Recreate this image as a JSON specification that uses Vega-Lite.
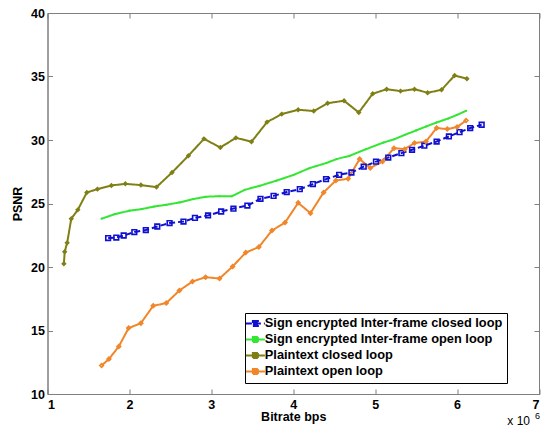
{
  "$schema": "https://vega.github.io/schema/vega-lite/v6.json",
  "width": 491.5,
  "height": 381,
  "autosize": "none",
  "padding": {"left": 47.5, "top": 13, "right": 4, "bottom": 32},
  "background": "white",
  "config": {
    "view": {"stroke": "#7f7f7f", "strokeWidth": 1},
    "font": "Liberation Sans",
    "axis": {
      "grid": false, "domainColor": "#7f7f7f", "tickColor": "#7f7f7f",
      "labelFont": "Liberation Sans", "labelFontSize": 12.5, "labelFontWeight": "bold", "labelColor": "black",
      "titleFont": "Liberation Sans", "titleFontSize": 12.5, "titleFontWeight": "bold", "titleColor": "black"
    }
  },
  "datasets": {
    "main": [
      {"series": "Sign encrypted Inter-frame closed loop", "x": 1.74, "y": 22.28},
      {"series": "Sign encrypted Inter-frame closed loop", "x": 1.84, "y": 22.32},
      {"series": "Sign encrypted Inter-frame closed loop", "x": 1.93, "y": 22.48},
      {"series": "Sign encrypted Inter-frame closed loop", "x": 2.06, "y": 22.75},
      {"series": "Sign encrypted Inter-frame closed loop", "x": 2.20, "y": 22.91},
      {"series": "Sign encrypted Inter-frame closed loop", "x": 2.34, "y": 23.19},
      {"series": "Sign encrypted Inter-frame closed loop", "x": 2.49, "y": 23.46},
      {"series": "Sign encrypted Inter-frame closed loop", "x": 2.66, "y": 23.58},
      {"series": "Sign encrypted Inter-frame closed loop", "x": 2.80, "y": 23.87},
      {"series": "Sign encrypted Inter-frame closed loop", "x": 2.96, "y": 24.06},
      {"series": "Sign encrypted Inter-frame closed loop", "x": 3.12, "y": 24.37},
      {"series": "Sign encrypted Inter-frame closed loop", "x": 3.27, "y": 24.60},
      {"series": "Sign encrypted Inter-frame closed loop", "x": 3.44, "y": 24.84},
      {"series": "Sign encrypted Inter-frame closed loop", "x": 3.60, "y": 25.37},
      {"series": "Sign encrypted Inter-frame closed loop", "x": 3.76, "y": 25.60},
      {"series": "Sign encrypted Inter-frame closed loop", "x": 3.92, "y": 25.90},
      {"series": "Sign encrypted Inter-frame closed loop", "x": 4.08, "y": 26.13},
      {"series": "Sign encrypted Inter-frame closed loop", "x": 4.24, "y": 26.53},
      {"series": "Sign encrypted Inter-frame closed loop", "x": 4.40, "y": 26.92},
      {"series": "Sign encrypted Inter-frame closed loop", "x": 4.56, "y": 27.26},
      {"series": "Sign encrypted Inter-frame closed loop", "x": 4.71, "y": 27.44},
      {"series": "Sign encrypted Inter-frame closed loop", "x": 4.86, "y": 27.90},
      {"series": "Sign encrypted Inter-frame closed loop", "x": 5.01, "y": 28.30},
      {"series": "Sign encrypted Inter-frame closed loop", "x": 5.16, "y": 28.62},
      {"series": "Sign encrypted Inter-frame closed loop", "x": 5.32, "y": 28.97},
      {"series": "Sign encrypted Inter-frame closed loop", "x": 5.45, "y": 29.23},
      {"series": "Sign encrypted Inter-frame closed loop", "x": 5.60, "y": 29.55},
      {"series": "Sign encrypted Inter-frame closed loop", "x": 5.75, "y": 29.88},
      {"series": "Sign encrypted Inter-frame closed loop", "x": 5.90, "y": 30.28},
      {"series": "Sign encrypted Inter-frame closed loop", "x": 6.03, "y": 30.62},
      {"series": "Sign encrypted Inter-frame closed loop", "x": 6.16, "y": 30.94},
      {"series": "Sign encrypted Inter-frame closed loop", "x": 6.30, "y": 31.20},

      {"series": "Sign encrypted Inter-frame open loop", "x": 1.66, "y": 23.80},
      {"series": "Sign encrypted Inter-frame open loop", "x": 1.82, "y": 24.16},
      {"series": "Sign encrypted Inter-frame open loop", "x": 2.00, "y": 24.43},
      {"series": "Sign encrypted Inter-frame open loop", "x": 2.15, "y": 24.56},
      {"series": "Sign encrypted Inter-frame open loop", "x": 2.30, "y": 24.76},
      {"series": "Sign encrypted Inter-frame open loop", "x": 2.45, "y": 24.90},
      {"series": "Sign encrypted Inter-frame open loop", "x": 2.61, "y": 25.08},
      {"series": "Sign encrypted Inter-frame open loop", "x": 2.78, "y": 25.35},
      {"series": "Sign encrypted Inter-frame open loop", "x": 2.93, "y": 25.53},
      {"series": "Sign encrypted Inter-frame open loop", "x": 3.10, "y": 25.58},
      {"series": "Sign encrypted Inter-frame open loop", "x": 3.25, "y": 25.57},
      {"series": "Sign encrypted Inter-frame open loop", "x": 3.41, "y": 26.08},
      {"series": "Sign encrypted Inter-frame open loop", "x": 3.59, "y": 26.39},
      {"series": "Sign encrypted Inter-frame open loop", "x": 3.80, "y": 26.81},
      {"series": "Sign encrypted Inter-frame open loop", "x": 4.00, "y": 27.24},
      {"series": "Sign encrypted Inter-frame open loop", "x": 4.20, "y": 27.79},
      {"series": "Sign encrypted Inter-frame open loop", "x": 4.40, "y": 28.18},
      {"series": "Sign encrypted Inter-frame open loop", "x": 4.53, "y": 28.50},
      {"series": "Sign encrypted Inter-frame open loop", "x": 4.69, "y": 28.76},
      {"series": "Sign encrypted Inter-frame open loop", "x": 4.89, "y": 29.28},
      {"series": "Sign encrypted Inter-frame open loop", "x": 5.10, "y": 29.80},
      {"series": "Sign encrypted Inter-frame open loop", "x": 5.23, "y": 30.05},
      {"series": "Sign encrypted Inter-frame open loop", "x": 5.36, "y": 30.40},
      {"series": "Sign encrypted Inter-frame open loop", "x": 5.50, "y": 30.75},
      {"series": "Sign encrypted Inter-frame open loop", "x": 5.62, "y": 31.06},
      {"series": "Sign encrypted Inter-frame open loop", "x": 5.75, "y": 31.38},
      {"series": "Sign encrypted Inter-frame open loop", "x": 5.89, "y": 31.69},
      {"series": "Sign encrypted Inter-frame open loop", "x": 6.00, "y": 31.98},
      {"series": "Sign encrypted Inter-frame open loop", "x": 6.11, "y": 32.30},

      {"series": "Plaintext closed loop", "x": 1.20, "y": 20.25},
      {"series": "Plaintext closed loop", "x": 1.21, "y": 21.20},
      {"series": "Plaintext closed loop", "x": 1.24, "y": 21.90},
      {"series": "Plaintext closed loop", "x": 1.29, "y": 23.80},
      {"series": "Plaintext closed loop", "x": 1.37, "y": 24.50},
      {"series": "Plaintext closed loop", "x": 1.48, "y": 25.87},
      {"series": "Plaintext closed loop", "x": 1.61, "y": 26.13},
      {"series": "Plaintext closed loop", "x": 1.78, "y": 26.42},
      {"series": "Plaintext closed loop", "x": 1.95, "y": 26.55},
      {"series": "Plaintext closed loop", "x": 2.14, "y": 26.45},
      {"series": "Plaintext closed loop", "x": 2.33, "y": 26.29},
      {"series": "Plaintext closed loop", "x": 2.52, "y": 27.44},
      {"series": "Plaintext closed loop", "x": 2.72, "y": 28.76},
      {"series": "Plaintext closed loop", "x": 2.91, "y": 30.09},
      {"series": "Plaintext closed loop", "x": 3.11, "y": 29.41},
      {"series": "Plaintext closed loop", "x": 3.30, "y": 30.17},
      {"series": "Plaintext closed loop", "x": 3.49, "y": 29.86},
      {"series": "Plaintext closed loop", "x": 3.68, "y": 31.41},
      {"series": "Plaintext closed loop", "x": 3.86, "y": 32.04},
      {"series": "Plaintext closed loop", "x": 4.06, "y": 32.38},
      {"series": "Plaintext closed loop", "x": 4.25, "y": 32.28},
      {"series": "Plaintext closed loop", "x": 4.42, "y": 32.90},
      {"series": "Plaintext closed loop", "x": 4.62, "y": 33.09},
      {"series": "Plaintext closed loop", "x": 4.80, "y": 32.17},
      {"series": "Plaintext closed loop", "x": 4.97, "y": 33.64},
      {"series": "Plaintext closed loop", "x": 5.14, "y": 34.00},
      {"series": "Plaintext closed loop", "x": 5.31, "y": 33.85},
      {"series": "Plaintext closed loop", "x": 5.48, "y": 34.00},
      {"series": "Plaintext closed loop", "x": 5.64, "y": 33.72},
      {"series": "Plaintext closed loop", "x": 5.81, "y": 33.95},
      {"series": "Plaintext closed loop", "x": 5.97, "y": 35.08},
      {"series": "Plaintext closed loop", "x": 6.12, "y": 34.82},

      {"series": "Plaintext open loop", "x": 1.66, "y": 12.24},
      {"series": "Plaintext open loop", "x": 1.75, "y": 12.75},
      {"series": "Plaintext open loop", "x": 1.87, "y": 13.74},
      {"series": "Plaintext open loop", "x": 1.99, "y": 15.19},
      {"series": "Plaintext open loop", "x": 2.14, "y": 15.58},
      {"series": "Plaintext open loop", "x": 2.29, "y": 16.94},
      {"series": "Plaintext open loop", "x": 2.45, "y": 17.16},
      {"series": "Plaintext open loop", "x": 2.61, "y": 18.15},
      {"series": "Plaintext open loop", "x": 2.77, "y": 18.86},
      {"series": "Plaintext open loop", "x": 2.93, "y": 19.20},
      {"series": "Plaintext open loop", "x": 3.10, "y": 19.09},
      {"series": "Plaintext open loop", "x": 3.26, "y": 20.04},
      {"series": "Plaintext open loop", "x": 3.42, "y": 21.14},
      {"series": "Plaintext open loop", "x": 3.58, "y": 21.57},
      {"series": "Plaintext open loop", "x": 3.74, "y": 22.87},
      {"series": "Plaintext open loop", "x": 3.90, "y": 23.50},
      {"series": "Plaintext open loop", "x": 4.06, "y": 25.05},
      {"series": "Plaintext open loop", "x": 4.21, "y": 24.24},
      {"series": "Plaintext open loop", "x": 4.37, "y": 25.87},
      {"series": "Plaintext open loop", "x": 4.52, "y": 26.81},
      {"series": "Plaintext open loop", "x": 4.67, "y": 26.95},
      {"series": "Plaintext open loop", "x": 4.81, "y": 28.50},
      {"series": "Plaintext open loop", "x": 4.94, "y": 27.79},
      {"series": "Plaintext open loop", "x": 5.09, "y": 28.31},
      {"series": "Plaintext open loop", "x": 5.23, "y": 29.36},
      {"series": "Plaintext open loop", "x": 5.36, "y": 29.28},
      {"series": "Plaintext open loop", "x": 5.48, "y": 29.76},
      {"series": "Plaintext open loop", "x": 5.62, "y": 29.88},
      {"series": "Plaintext open loop", "x": 5.75, "y": 30.94},
      {"series": "Plaintext open loop", "x": 5.88, "y": 30.86},
      {"series": "Plaintext open loop", "x": 6.00, "y": 31.02},
      {"series": "Plaintext open loop", "x": 6.11, "y": 31.54}
    ],
    "note": [{"a": "x 10", "b": "6"}]
  },
  "resolve": {"axis": {"x": "independent", "y": "independent"}},
  "layer": [
    {
      "data": {"name": "main"},
      "mark": {"type": "line", "strokeWidth": 2},
      "encoding": {
        "x": {"field": "x", "type": "quantitative",
              "scale": {"domain": [1, 7], "nice": false, "zero": false},
              "axis": {"values": [1, 2, 3, 4, 5, 6, 7], "tickSize": -5, "labelPadding": 9, "title": "Bitrate bps", "titlePadding": 0, "format": "d"}},
        "y": {"field": "y", "type": "quantitative",
              "scale": {"domain": [10, 40], "nice": false, "zero": false},
              "axis": {"values": [10, 15, 20, 25, 30, 35, 40], "tickSize": -5, "labelPadding": 8, "title": "PSNR", "titlePadding": 6, "format": "d"}},
        "color": {"field": "series", "type": "nominal",
                  "scale": {"domain": ["Sign encrypted Inter-frame closed loop", "Sign encrypted Inter-frame open loop", "Plaintext closed loop", "Plaintext open loop"],
                            "range": ["#1010d0", "#33e633", "#7f7f14", "#f0862a"]},
                  "legend": {"orient": "none", "legendX": 197.5, "legendY": 300, "title": null,
                             "strokeColor": "black", "fillColor": "white", "padding": 4, "rowPadding": 1,
                             "labelFont": "Liberation Sans", "labelFontSize": 12.8, "labelFontWeight": "bold", "labelColor": "black", "labelLimit": 400, "labelOffset": 3,
                             "symbolType": "M-1.9,0H1.9M-0.5,-0.5H0.5V0.5H-0.5Z", "symbolSize": 100, "symbolStrokeWidth": 2, "symbolOpacity": 1,
                             "encode": {"symbols": {"update": {
                               "fill": {"scale": "color", "field": "value"},
                               "stroke": {"scale": "color", "field": "value"}}}}}},
        "strokeDash": {"field": "series", "type": "nominal",
                       "scale": {"domain": ["Sign encrypted Inter-frame closed loop", "Sign encrypted Inter-frame open loop", "Plaintext closed loop", "Plaintext open loop"],
                                 "range": [[6, 3], [1, 0], [1, 0], [1, 0]]}}
      }
    },
    {
      "data": {"name": "main"},
      "transform": [{"filter": "datum.series === 'Sign encrypted Inter-frame closed loop'"}],
      "mark": {"type": "point", "shape": "square", "size": 22, "filled": false, "strokeWidth": 1.6, "opacity": 1},
      "encoding": {
        "x": {"field": "x", "type": "quantitative", "axis": {"orient": "top", "values": [1, 2, 3, 4, 5, 6, 7], "tickSize": -5, "labels": false, "title": null}},
        "y": {"field": "y", "type": "quantitative", "axis": {"orient": "right", "values": [10, 15, 20, 25, 30, 35, 40], "tickSize": -5, "labels": false, "title": null}},
        "color": {"field": "series", "type": "nominal", "legend": null}
      }
    },
    {
      "data": {"name": "main"},
      "transform": [{"filter": "datum.series === 'Sign encrypted Inter-frame open loop'"}],
      "mark": {"type": "point", "shape": "circle", "size": 5, "filled": true, "opacity": 1},
      "encoding": {
        "x": {"field": "x", "type": "quantitative", "axis": null},
        "y": {"field": "y", "type": "quantitative", "axis": null},
        "color": {"field": "series", "type": "nominal", "legend": null}
      }
    },
    {
      "data": {"name": "main"},
      "transform": [{"filter": "datum.series === 'Plaintext closed loop'"}],
      "mark": {"type": "point", "shape": "diamond", "size": 10, "filled": false, "strokeWidth": 1.6, "opacity": 1},
      "encoding": {
        "x": {"field": "x", "type": "quantitative", "axis": null},
        "y": {"field": "y", "type": "quantitative", "axis": null},
        "color": {"field": "series", "type": "nominal", "legend": null}
      }
    },
    {
      "data": {"name": "main"},
      "transform": [{"filter": "datum.series === 'Plaintext open loop'"}],
      "mark": {"type": "point", "shape": "diamond", "size": 14, "filled": false, "strokeWidth": 1.6, "opacity": 1},
      "encoding": {
        "x": {"field": "x", "type": "quantitative", "axis": null},
        "y": {"field": "y", "type": "quantitative", "axis": null},
        "color": {"field": "series", "type": "nominal", "legend": null}
      }
    },
    {
      "data": {"name": "note"},
      "mark": {"type": "text", "align": "right", "baseline": "alphabetic", "dx": -9, "dy": 30.5, "fontSize": 12, "font": "Liberation Sans", "color": "black"},
      "encoding": {"x": {"datum": 7, "type": "quantitative", "axis": null}, "y": {"datum": 10, "type": "quantitative", "axis": null}, "text": {"field": "a"}}
    },
    {
      "data": {"name": "note"},
      "mark": {"type": "text", "align": "left", "baseline": "alphabetic", "dx": -4, "dy": 25, "fontSize": 9, "font": "Liberation Sans", "color": "black"},
      "encoding": {"x": {"datum": 7, "type": "quantitative", "axis": null}, "y": {"datum": 10, "type": "quantitative", "axis": null}, "text": {"field": "b"}}
    }
  ]
}
